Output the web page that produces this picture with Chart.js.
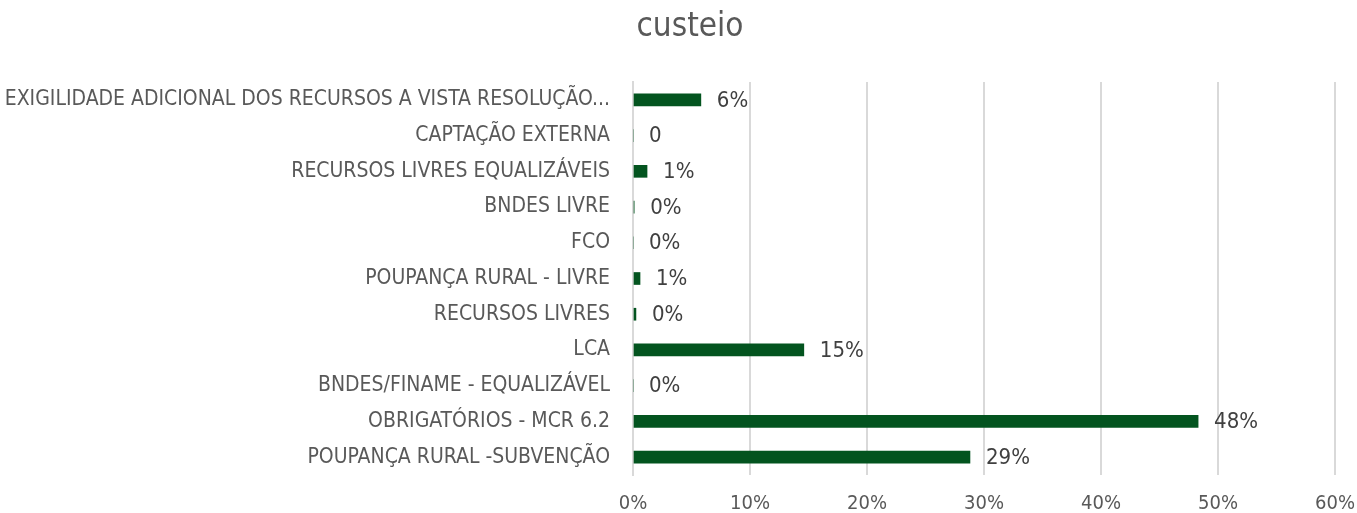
<!DOCTYPE html>
<html>
<head>
<meta charset="utf-8">
<script src="https://cdn.jsdelivr.net/npm/chart.js@4.4.1/dist/chart.umd.min.js"></script>
<style>
  html, body { margin: 0; padding: 0; background: #fff; }
  #wrap { width: 1357px; height: 513px; }
</style>
</head>
<body>
<div id="wrap"><canvas id="custeioChart" width="1357" height="513"></canvas></div>
<script>
// categorias (de cima para baixo)
var categorias = [
    'EXIGILIDADE ADICIONAL DOS RECURSOS A VISTA RESOLUÇÃO...',
    'CAPTAÇÃO EXTERNA',
    'RECURSOS LIVRES EQUALIZÁVEIS',
    'BNDES LIVRE',
    'FCO',
    'POUPANÇA RURAL - LIVRE',
    'RECURSOS LIVRES',
    'LCA',
    'BNDES/FINAME - EQUALIZÁVEL',
    'OBRIGATÓRIOS - MCR 6.2',
    'POUPANÇA RURAL -SUBVENÇÃO'
];

// participação em %
var valores = [5.8, 0, 1.2, 0.1, 0, 0.6, 0.25, 14.6, 0, 48.3, 28.8];

// rótulos mostrados ao lado das barras
var rotulos = ['6%', '0', '1%', '0%', '0%', '1%', '0%', '15%', '0%', '48%', '29%'];

var ticksX = [0, 10, 20, 30, 40, 50, 60];

var titulo = 'custeio';

var FONTE = "'DejaVu Sans Condensed', 'Liberation Sans Narrow', sans-serif";

// plugin simples para escrever os rótulos de dados e o título
var rotuloPlugin = {
    id: 'rotuloPlugin',
    afterDatasetsDraw: function(chart) {
        var ctx = chart.ctx;
        var meta = chart.getDatasetMeta(0);
        ctx.save();
        ctx.font = '22px ' + FONTE;
        ctx.fillStyle = '#404040';
        ctx.textAlign = 'left';
        ctx.textBaseline = 'middle';
        meta.data.forEach(function(bar, i) {
            ctx.fillText(rotulos[i], bar.x + 16, bar.y + 1);
        });

        // título
        ctx.font = '33px ' + FONTE;
        ctx.fillStyle = '#595959';
        ctx.textAlign = 'center';
        ctx.fillText(titulo, 690, 27);
        ctx.restore();
    }
};

var ctx = document.getElementById('custeioChart').getContext('2d');
new Chart(ctx, {
    type: 'bar',
    data: {
        labels: categorias,
        datasets: [{
            data: valores,
            backgroundColor: '#03541F',
            borderWidth: 0,
            barThickness: 12
        }]
    },
    plugins: [rotuloPlugin],
    options: {
        indexAxis: 'y',
        responsive: false,
        animation: false,
        layout: { padding: { top: 82, right: 22, bottom: 0, left: 0 } },
        scales: {
            x: {
                min: 0,
                max: 60,
                afterBuildTicks: function(scale) {
                    scale.ticks = ticksX.map(function(v) { return { value: v }; });
                },
                afterFit: function(scale) {
                    scale.height = 38;
                    scale.paddingLeft = 0;
                    scale.paddingRight = 0;
                },
                grid: { color: '#D9D9D9', lineWidth: 2, drawTicks: false },
                border: { display: false },
                ticks: {
                    padding: 17,
                    color: '#595959',
                    font: { family: FONTE, size: 20 },
                    callback: function(v) { return v + '%'; }
                }
            },
            y: {
                afterFit: function(scale) { scale.width = 633; },
                grid: { display: false, drawTicks: false },
                border: { display: true, color: '#D9D9D9', width: 2 },
                ticks: {
                    padding: 23,
                    color: '#595959',
                    font: { family: FONTE, size: 21 },
                    autoSkip: false
                }
            }
        },
        plugins: {
            legend: { display: false },
            tooltip: { enabled: false },
            title: { display: false }
        }
    }
});
</script>
</body>
</html>
